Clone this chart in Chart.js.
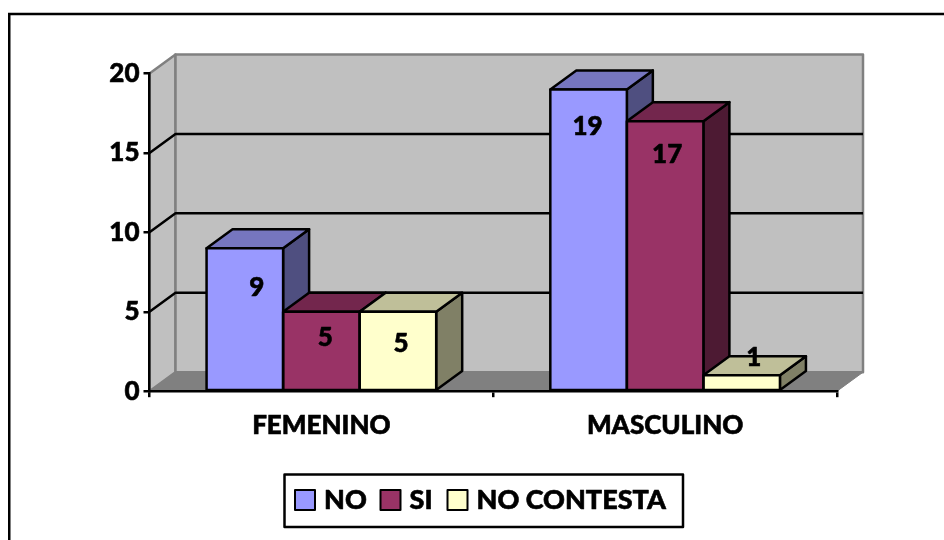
<!DOCTYPE html>
<html>
<head>
<meta charset="utf-8">
<style>html,body{margin:0;padding:0;background:#fff}canvas{display:block}</style>
<script src="https://cdn.jsdelivr.net/npm/chart.js@4"></script>
</head>
<body>
<canvas id="c" width="944" height="540"></canvas>
<script>
const categories = ['FEMENINO', 'MASCULINO'];
const seriesNames = ['NO', 'SI', 'NO CONTESTA'];
const seriesNo = [9, 19];
const seriesSi = [5, 17];
const seriesNoContesta = [5, 1];
const yTicks = [0, 5, 10, 15, 20];

const FONT = 'Lato';
const WEIGHT = '900';
const FS = 26;
const LEGEND_FS = 27;
const TEXT_STROKE = 0.6;
const fontStr = `${WEIGHT} ${FS}px ${FONT}`;
const legendFont = `${WEIGHT} ${LEGEND_FS}px ${FONT}`;
const depthX = 26, depthY = -19;
const LW = 2.5;
const faceColors = ['#9999FF', '#993366', '#FFFFCC'];
const topColors = ['#7676BF', '#73264D', '#BFBF99'];
const sideColors = ['#4F4F80', '#4D1A33', '#808066'];
// label nudges [dx from bar centre, dy from bar top], by series then category
const labelNudge = [[[12, 39], [-1, 37]], [[4, 26], [2, 33]], [[3, 32], [12, -18]]];

function poly(ctx, pts, fill, stroke, lw) {
  ctx.beginPath();
  pts.forEach((p, i) => i ? ctx.lineTo(p[0], p[1]) : ctx.moveTo(p[0], p[1]));
  ctx.closePath();
  if (fill) { ctx.fillStyle = fill; ctx.fill(); }
  if (stroke) { ctx.strokeStyle = stroke; ctx.lineWidth = lw; ctx.lineJoin = 'round'; ctx.stroke(); }
}
function boldText(ctx, text, x, y) {
  ctx.fillStyle = '#000'; ctx.strokeStyle = '#000'; ctx.lineWidth = TEXT_STROKE;
  ctx.fillText(text, x, y);
  ctx.strokeText(text, x, y);
}

const scene = {
  id: 'scene',
  beforeDraw(chart) {
    const { ctx, chartArea: a, scales: { y } } = chart;
    ctx.save();
    ctx.fillStyle = '#fff';
    ctx.fillRect(0, 0, chart.width, chart.height);
    // outer frame
    ctx.strokeStyle = '#000'; ctx.lineWidth = 2.5;
    ctx.beginPath(); ctx.moveTo(9.25, 560); ctx.lineTo(9.25, 14); ctx.lineTo(960, 14); ctx.stroke();
    const L = a.left, R = a.right, T = a.top, B = a.bottom;
    const bL = L + depthX, bR = R + depthX, bT = T + depthY, bB = B + depthY;
    poly(ctx, [[L, T], [bL, bT], [bL, bB], [L, B]], '#C0C0C0', '#808080', 2.5);
    poly(ctx, [[bL, bT], [bR, bT], [bR, bB], [bL, bB]], '#C0C0C0', '#808080', 2.5);
    poly(ctx, [[L, B], [bL, bB], [bR, bB], [R, B]], '#808080', '#808080', 1);
    // gridlines on the walls
    ctx.strokeStyle = '#000'; ctx.lineWidth = LW;
    yTicks.forEach(v => {
      if (v === 0 || v === 20) return;
      const py = y.getPixelForValue(v);
      ctx.beginPath();
      ctx.moveTo(L, py); ctx.lineTo(bL, py + depthY); ctx.lineTo(bR, py + depthY);
      ctx.stroke();
    });
    ctx.restore();
  },
  beforeDatasetsDraw(chart) {
    const { ctx } = chart;
    ctx.save();
    categories.forEach((_, c) => {
      chart.data.datasets.forEach((ds, s) => {
        const el = chart.getDatasetMeta(s).data[c];
        const half = el.width / 2, l = el.x - half, r = el.x + half, t = el.y, b = el.base;
        poly(ctx, [[r, t], [r + depthX, t + depthY], [r + depthX, b + depthY], [r, b]], sideColors[s], '#000', LW);
        poly(ctx, [[l, t], [l + depthX, t + depthY], [r + depthX, t + depthY], [r, t]], topColors[s], '#000', LW);
      });
    });
    ctx.restore();
  },
  afterDatasetsDraw(chart) {
    const { ctx } = chart;
    ctx.save();
    // front-face outlines, centred on the bar edges
    ctx.strokeStyle = '#000'; ctx.lineWidth = LW; ctx.lineJoin = 'round';
    chart.data.datasets.forEach((ds, s) => {
      chart.getDatasetMeta(s).data.forEach(el => {
        ctx.strokeRect(el.x - el.width / 2, el.y, el.width, el.base - el.y);
      });
    });
    ctx.font = fontStr;
    ctx.textAlign = 'center'; ctx.textBaseline = 'middle';
    chart.data.datasets.forEach((ds, s) => {
      chart.getDatasetMeta(s).data.forEach((el, c) => {
        const n = labelNudge[s][c];
        boldText(ctx, String(ds.data[c]), el.x + n[0], el.y + n[1]);
      });
    });
    // legend
    const box = { l: 284.5, t: 474.5, r: 683, b: 527 };
    ctx.fillStyle = '#fff'; ctx.fillRect(box.l, box.t, box.r - box.l, box.b - box.t);
    ctx.strokeStyle = '#000'; ctx.lineWidth = LW;
    ctx.strokeRect(box.l, box.t, box.r - box.l, box.b - box.t);
    const swatchX = [295, 380.5, 447.5];
    ctx.textAlign = 'left';
    ctx.font = legendFont;
    chart.data.datasets.forEach((ds, s) => {
      ctx.fillStyle = ds.backgroundColor;
      ctx.fillRect(swatchX[s], 490, 20, 20);
      ctx.strokeStyle = '#000'; ctx.lineWidth = 2;
      ctx.strokeRect(swatchX[s], 490, 20, 20);
      boldText(ctx, ds.label, swatchX[s] + 29, 500.5);
    });
    ctx.restore();
  }
};

const mkDs = (i, data) => ({
  label: seriesNames[i], data,
  backgroundColor: faceColors[i], borderWidth: 0,
  categoryPercentage: 0.668, barPercentage: 1
});
const tickFont = { family: FONT, size: FS, weight: WEIGHT };

new Chart(document.getElementById('c'), {
  type: 'bar',
  data: {
    labels: categories,
    datasets: [mkDs(0, seriesNo), mkDs(1, seriesSi), mkDs(2, seriesNoContesta)]
  },
  plugins: [scene],
  options: {
    responsive: false, animation: false,
    devicePixelRatio: 1,
    layout: { padding: { left: 0, top: 73.5, right: 107, bottom: 0 } },
    plugins: { legend: { display: false }, tooltip: { enabled: false }, title: { display: false } },
    scales: {
      x: {
        afterFit(s) { s.height = 148.8; },
        grid: { display: true, drawOnChartArea: false, drawTicks: true, tickLength: 6, color: '#000', lineWidth: 2.5 },
        border: { display: true, color: '#000', width: 2.5 },
        ticks: { color: '#000', font: tickFont, padding: 13, maxRotation: 0, textStrokeColor: '#000', textStrokeWidth: TEXT_STROKE }
      },
      y: {
        min: 0, max: 20,
        afterFit(s) { s.width = 149.5; },
        grid: { display: true, drawOnChartArea: false, drawTicks: true, tickLength: 6, color: '#000', lineWidth: 2.5 },
        border: { display: true, color: '#000', width: 2.5 },
        ticks: { color: '#000', stepSize: 5, font: tickFont, padding: 4, textStrokeColor: '#000', textStrokeWidth: TEXT_STROKE }
      }
    }
  }
});
</script>
</body>
</html>
